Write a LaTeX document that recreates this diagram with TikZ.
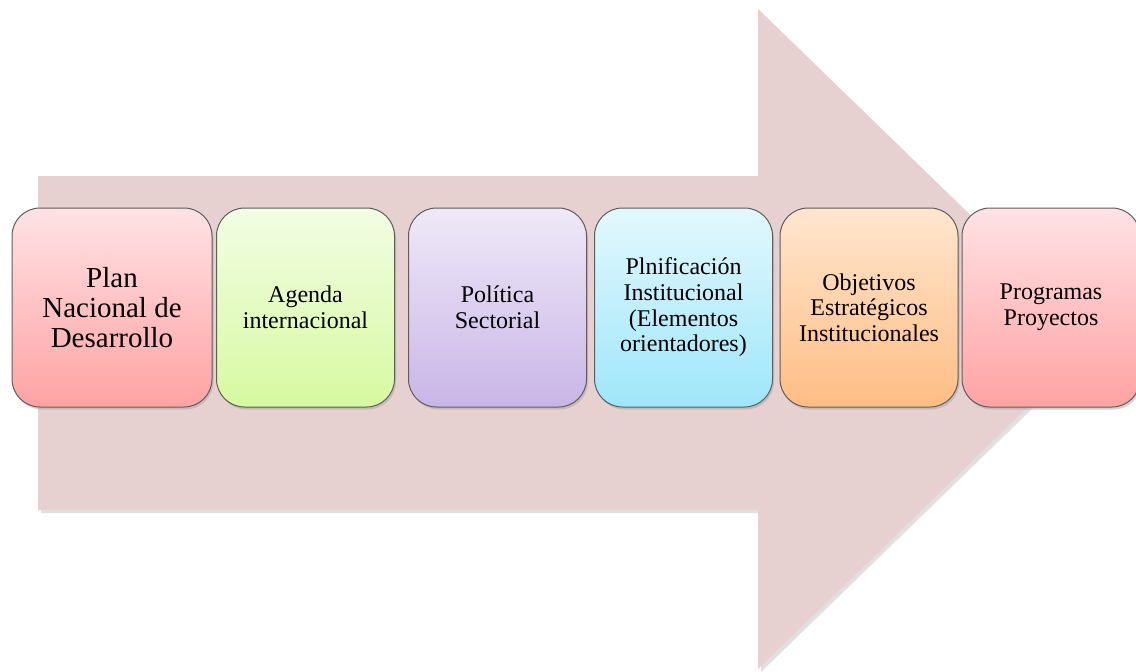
\documentclass[tikz,border=0pt]{standalone}
\usepackage{fontspec}
\setmainfont{Liberation Serif}
\usepackage{tikz}
\usetikzlibrary{shadows}

\definecolor{arrowfill}{HTML}{E6D0D0}
\definecolor{boxline}{HTML}{5E5E5E}
\definecolor{redtop}{HTML}{FFE2E5}
\definecolor{redbot}{HTML}{FFA2A3}
\definecolor{greentop}{HTML}{F2FDE4}
\definecolor{greenbot}{HTML}{D7F9A1}
\definecolor{violettop}{HTML}{EFE9F8}
\definecolor{violetbot}{HTML}{C9B5E6}
\definecolor{cyantop}{HTML}{E3F8FE}
\definecolor{cyanbot}{HTML}{9EE6FA}
\definecolor{orangetop}{HTML}{FFE6CF}
\definecolor{orangebot}{HTML}{FFBD84}

\tikzset{
    stage/.style={draw=boxline, line width=1pt, rounded corners=28pt,
        minimum width=178pt, minimum height=199pt, align=center,
        font=\fontsize{24}{25.7}\selectfont,
        drop shadow={shadow xshift=1.5pt, shadow yshift=-2.5pt, fill=black!35, opacity=0.5}},
    bigstage/.style={stage, minimum width=200pt, font=\fontsize{29}{30}\selectfont}
}

\begin{document}
\begin{tikzpicture}[x=1pt, y=-1pt]
        \useasboundingbox (0, 0) rectangle (1136, 672);
        \fill[black!20, opacity=0.6] (41, 179) -- (761, 179) -- (761, 12) -- (1101, 342) -- (761, 672) -- (761, 513) -- (41, 513) -- cycle;
        \fill[arrowfill] (38, 176) -- (758, 176) -- (758, 9) -- (1098, 339) -- (758, 669) -- (758, 510) -- (38, 510) -- cycle;
        \node[bigstage, top color=redtop, bottom color=redbot] (pnd) at (112, 307.5) {Plan\\Nacional de\\Desarrollo};
        \node[stage, top color=greentop, bottom color=greenbot] (agenda) at (305.5, 307.5) {Agenda\\internacional};
        \node[stage, top color=violettop, bottom color=violetbot] (politica) at (497.5, 307.5) {Política\\Sectorial};
        \node[stage, top color=cyantop, bottom color=cyanbot] (planif) at (683.5, 307.5) {Plnificación\\Institucional\\(Elementos\\orientadores)};
        \node[stage, top color=orangetop, bottom color=orangebot] (objetivos) at (869, 307.5) {Objetivos\\Estratégicos\\Institucionales};
        \node[stage, top color=redtop, bottom color=redbot] (programas) at (1051, 307.5) {Programas\\Proyectos};
    \end{tikzpicture}
\end{document}
